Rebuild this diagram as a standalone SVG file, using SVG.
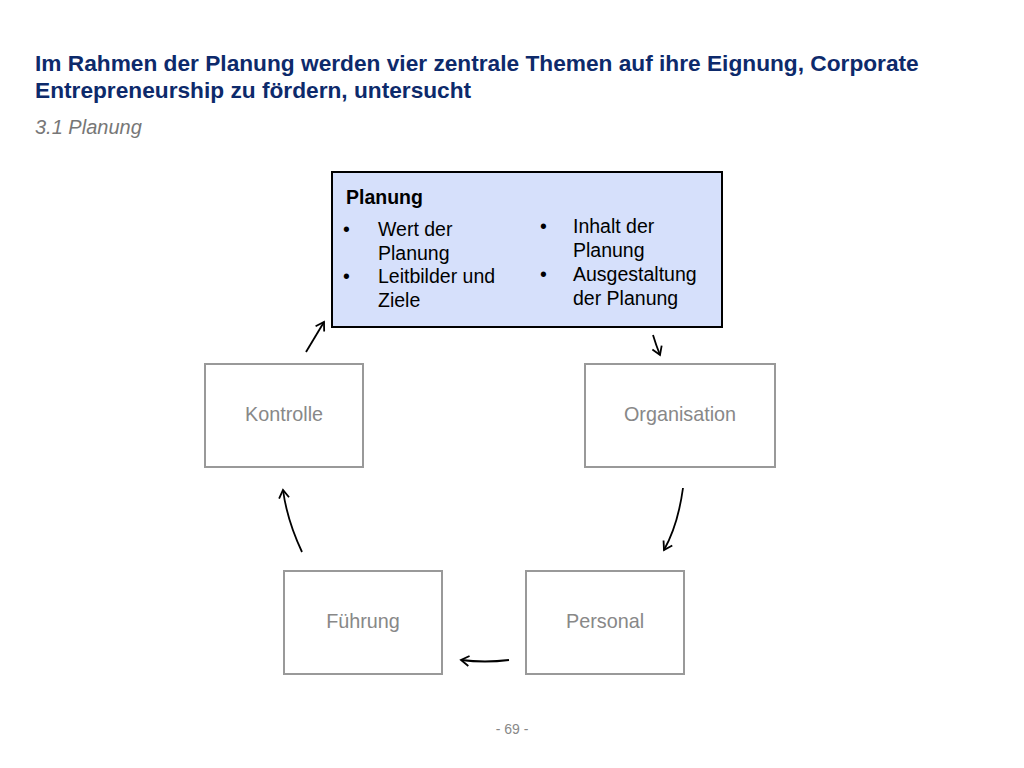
<svg xmlns="http://www.w3.org/2000/svg" width="1024" height="768" viewBox="0 0 1024 768">
<style>
text{font-family:"Liberation Sans",Arial,sans-serif}
.t{fill:#0d2a6b;font-weight:bold;font-size:22.7px}
.b{fill:#fff;stroke:#999;stroke-width:2}
.bl{fill:#888;font-size:19.8px;text-anchor:middle}
.p{fill:#000;font-size:19.5px}
.c{fill:none;stroke:#000;stroke-width:1.8}
</style>
<defs><marker id="a" markerWidth="12" markerHeight="12" refX="9" refY="6" orient="auto" markerUnits="userSpaceOnUse"><path d="M1,1 L9,6 L1,11" fill="none" stroke="#000" stroke-width="1.8"/></marker></defs>
<rect width="1024" height="768" fill="#fff"/>
<text class="t" x="35" y="71">Im Rahmen der Planung werden vier zentrale Themen auf ihre Eignung, Corporate</text>
<text class="t" x="35" y="98">Entrepreneurship zu fördern, untersucht</text>
<text x="35" y="134" font-size="20" font-style="italic" fill="#777">3.1 Planung</text>
<g id="planung"><rect x="332" y="172" width="390" height="155" fill="#d6e0fb" stroke="#000" stroke-width="2"/>
<text class="p" x="346" y="204" font-weight="bold">Planung</text>
<text class="p" x="343" y="236">•</text><text class="p" x="378" y="236">Wert der</text><text class="p" x="378" y="260">Planung</text>
<text class="p" x="343" y="283">•</text><text class="p" x="378" y="283">Leitbilder und</text><text class="p" x="378" y="307">Ziele</text>
<text class="p" x="540" y="233">•</text><text class="p" x="573" y="233">Inhalt der</text><text class="p" x="573" y="257">Planung</text>
<text class="p" x="540" y="281">•</text><text class="p" x="573" y="281">Ausgestaltung</text><text class="p" x="573" y="305">der Planung</text></g>
<g id="kontrolle"><rect class="b" x="205" y="364" width="158" height="103"/><text class="bl" x="284" y="421">Kontrolle</text></g>
<g id="organisation"><rect class="b" x="585" y="364" width="190" height="103"/><text class="bl" x="680" y="421">Organisation</text></g>
<g id="fuehrung"><rect class="b" x="284" y="571" width="158" height="103"/><text class="bl" x="363" y="628">Führung</text></g>
<g id="personal"><rect class="b" x="526" y="571" width="158" height="103"/><text class="bl" x="605" y="628">Personal</text></g>
<g id="connectors">
<path class="c" d="M306,352 L324,322" marker-end="url(#a)"/>
<path class="c" d="M653,335 Q656,345 660,355" marker-end="url(#a)"/>
<path class="c" d="M683,488 Q678,525 664,550" marker-end="url(#a)"/>
<path class="c" d="M509,660 Q485,663 461,660" marker-end="url(#a)"/>
<path class="c" d="M302,552 Q287,520 283,490" marker-end="url(#a)"/>
</g>
<text x="512" y="734" font-size="14" fill="#888" text-anchor="middle">- 69 -</text>
</svg>
